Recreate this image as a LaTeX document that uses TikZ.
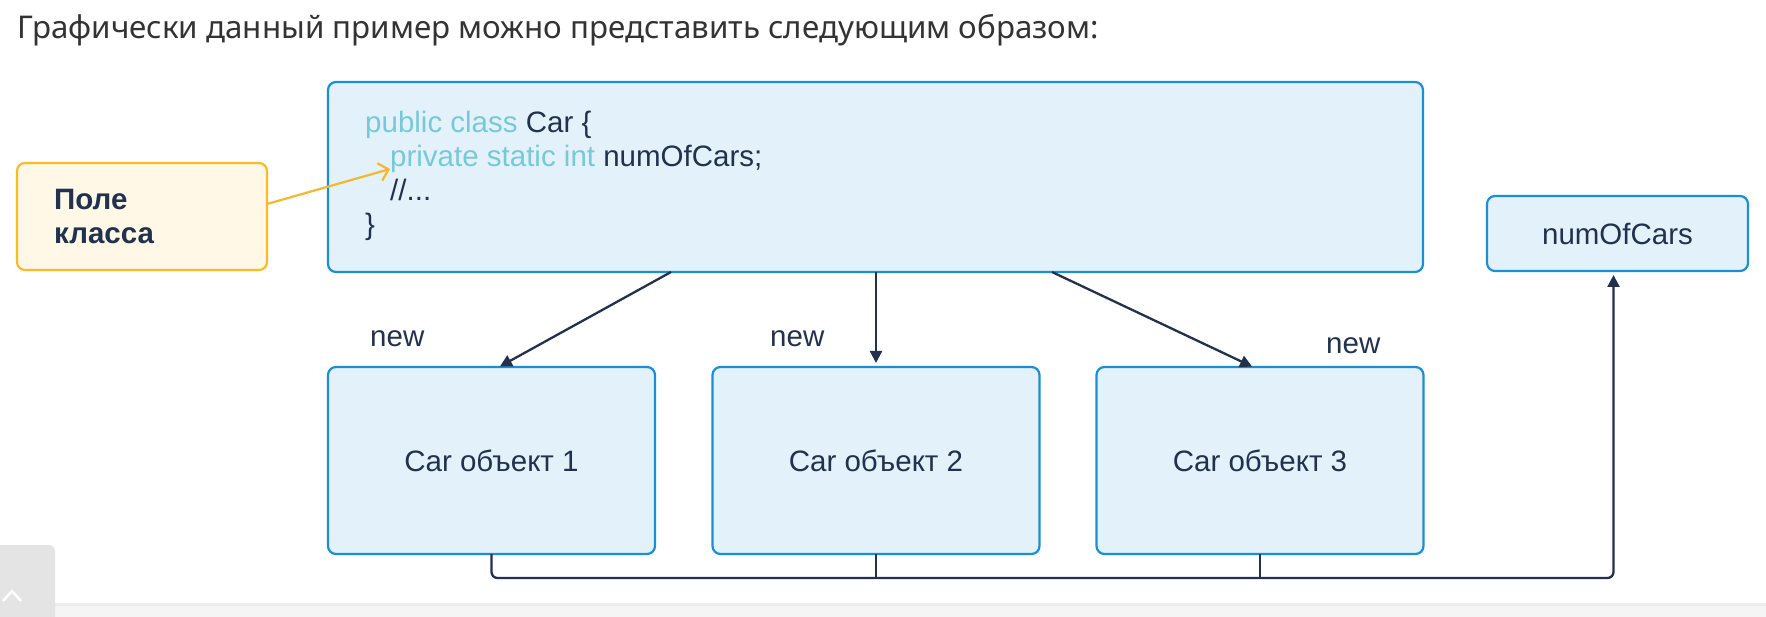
\documentclass[tikz,border=0pt]{standalone}
\usepackage{fontspec}
\setmainfont{Liberation Sans}
\newfontfamily\titlefont{Noto Sans}
\usetikzlibrary{arrows.meta}
\definecolor{boxblue}{HTML}{1A8FD3}
\definecolor{boxfill}{HTML}{E3F2FA}
\definecolor{navy}{HTML}{22314D}
\definecolor{kwcol}{HTML}{78C9D7}
\definecolor{ybord}{HTML}{F8BD22}
\definecolor{yfill}{HTML}{FFF8E7}
\definecolor{yarr}{HTML}{F5B730}
\definecolor{titlegray}{HTML}{333333}
\definecolor{bandgray}{HTML}{F5F5F5}
\definecolor{shadowgray}{HTML}{ECECEC}
\definecolor{btngray}{HTML}{E4E4E4}
\tikzset{
  bluebox/.style={draw=boxblue, fill=boxfill, line width=2.2pt, rounded corners=8pt,
    inner sep=0pt, outer sep=0pt, font=\fontsize{29.5}{34}\selectfont, text=navy},
  yellowbox/.style={draw=ybord, fill=yfill, line width=2.2pt, rounded corners=8pt,
    inner sep=0pt, outer sep=0pt},
  codetext/.style={inner sep=0pt, anchor=base west, font=\fontsize{29.5}{34}\selectfont, text=navy},
  fieldtext/.style={inner sep=0pt, anchor=base west, font=\bfseries\fontsize{29.5}{34}\selectfont, text=navy},
  lbl/.style={inner sep=0pt, anchor=base west, font=\fontsize{29.5}{34}\selectfont, text=navy},
  newarrow/.style={draw=navy, line width=2.3pt, -{Triangle[length=12pt,width=12pt]}},
  conn/.style={draw=navy, line width=2.3pt},
  yarrow/.style={draw=yarr, line width=2.2pt, -{Straight Barb[length=9pt,width=18pt]}}
}
\begin{document}
\begin{tikzpicture}[x=1pt,y=-1pt]
\useasboundingbox (0,0) rectangle (1766,617);
\fill[white] (0,0) rectangle (1766,617);

% page UI remnants
\fill[shadowgray] (0,603) rectangle (1766,606);
\fill[bandgray] (0,606) rectangle (1766,617);
\fill[btngray] (0,545) -- (49,545) arc[start angle=270, end angle=360, radius=6] -- (55,617) -- (0,617) -- cycle;
\draw[white, line width=2.5pt] (3,601) -- (12,591) -- (21,601);

% title
\node[anchor=base west, inner sep=0pt, font=\titlefont\fontsize{31.3}{36}\selectfont, text=titlegray] (title) at (17,39)
  {Графически данный пример можно представить следующим образом:};

% class box
\node[bluebox, minimum width=1095pt, minimum height=190pt] (cls) at (875.5,177) {};
\node[codetext] (l1) at (365,133) {\textcolor{kwcol}{public class} Car \{};
\node[codetext] (l2) at (390,167) {\textcolor{kwcol}{private static int} numOfCars;};
\node[codetext] (l3) at (390,201) {//...};
\node[codetext] (l4) at (365,235) {\}};

% field box
\node[yellowbox, minimum width=250pt, minimum height=107pt] (field) at (142,216.5) {};
\node[fieldtext] (f1) at (54,210) {Поле};
\node[fieldtext] (f2) at (54,244) {класса};
\draw[yarrow] ([yshift=12.5pt]field.east) -- ([yshift=-2pt]l2.base west);

% static field box
\node[bluebox, minimum width=261pt, minimum height=75pt] (num) at (1617.5,233.5) {numOfCars};

% objects
\node[bluebox, minimum width=327pt, minimum height=187pt] (car1) at (491.5,460.5) {Car объект 1};
\node[bluebox, minimum width=327pt, minimum height=187pt] (car2) at (876,460.5) {Car объект 2};
\node[bluebox, minimum width=327pt, minimum height=187pt] (car3) at (1260,460.5) {Car объект 3};

% new arrows
\draw[newarrow, shorten >=1pt] ([xshift=-204.5pt]cls.south) -- ([xshift=7.5pt]car1.north);
\draw[newarrow, shorten >=4pt] (car2.north |- cls.south) -- (car2.north);
\draw[newarrow, shorten >=1pt] ([xshift=176.5pt]cls.south) -- ([xshift=-7pt]car3.north);
\node[lbl] (n1) at (370,346) {new};
\node[lbl] (n2) at (770,346) {new};
\node[lbl] (n3) at (1326,354) {new};

% shared field connector
\coordinate (bus) at (0,578);
\draw[conn, rounded corners=6pt, -{Triangle[length=12pt,width=12pt]}, shorten >=4pt]
  (car1.south) -- (car1.south |- bus) -| ([xshift=-4pt]num.south);
\draw[conn] (car2.south) -- (car2.south |- bus);
\draw[conn] (car3.south) -- (car3.south |- bus);
\end{tikzpicture}
\end{document}
